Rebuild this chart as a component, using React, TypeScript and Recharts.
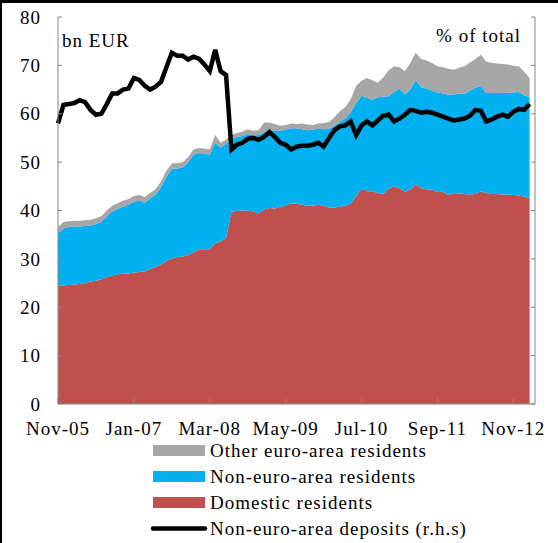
import { Area, ComposedChart, Line, XAxis, YAxis } from 'recharts';

// monthly, Nov-05 .. Feb-13
const MONTH_NAMES = ['Jan', 'Feb', 'Mar', 'Apr', 'May', 'Jun', 'Jul', 'Aug', 'Sep', 'Oct', 'Nov', 'Dec'];

const DOMESTIC = [
  24.5, 24.5, 24.6, 24.7, 24.8, 25.0, 25.3, 25.5, 25.8, 26.2,
  26.6, 26.8, 26.9, 27.0, 27.2, 27.3, 27.4, 27.9, 28.3, 28.9,
  29.5, 30.1, 30.4, 30.5, 30.8, 31.3, 32.0, 32.0, 32.0, 33.3,
  33.6, 34.3, 39.8, 39.9, 40.0, 40.0, 39.8, 39.4, 40.2, 40.5,
  40.4, 40.8, 41.0, 41.5, 41.4, 41.2, 41.0, 41.0, 41.2, 41.0,
  40.6, 40.6, 40.8, 41.0, 41.4, 43.0, 44.5, 44.0, 44.0, 43.6,
  43.4, 44.5, 45.0, 44.6, 43.9, 44.4, 45.5, 44.6, 44.4, 44.3,
  43.8, 43.9, 43.2, 43.6, 43.5, 43.4, 43.3, 43.4, 44.0, 43.6,
  43.4, 43.4, 43.3, 43.3, 43.2, 43.1, 42.9, 42.6,
];

const NON_EURO = [
  10.8, 11.8, 12.0, 12.0, 11.9, 11.8, 11.6, 11.7, 11.8, 12.6,
  13.2, 13.5, 13.9, 14.2, 14.6, 14.7, 14.2, 14.6, 15.0, 15.9,
  17.5, 18.5, 18.3, 18.4, 19.2, 20.3, 19.9, 19.8, 19.5, 20.7,
  19.4, 19.5, 15.0, 15.3, 15.4, 15.8, 15.7, 16.2, 16.0, 16.0,
  16.2, 15.7, 15.8, 15.5, 15.6, 15.6, 15.6, 15.7, 15.7, 15.8,
  16.3, 16.9, 17.5, 18.0, 18.9, 19.2, 19.2, 19.3, 18.9, 19.8,
  20.1, 19.1, 19.5, 20.6, 20.1, 20.6, 21.5, 20.9, 20.8, 20.5,
  20.6, 20.3, 20.8, 20.4, 20.7, 20.7, 21.5, 22.0, 21.7, 20.7,
  20.9, 20.9, 21.0, 21.0, 21.2, 21.4, 20.9, 20.8,
];

const OTHER_EURO = [
  1.3, 1.3, 1.2, 1.2, 1.2, 1.2, 1.2, 1.2, 1.2, 1.2,
  1.2, 1.2, 1.2, 1.2, 1.2, 1.2, 1.2, 1.1, 1.1, 1.2,
  1.2, 1.1, 1.1, 1.1, 1.0, 1.0, 1.0, 1.0, 1.1, 1.6,
  1.0, 0.8, 0.8, 0.8, 0.9, 1.0, 1.0, 1.0, 2.0, 1.7,
  1.3, 1.0, 0.9, 1.0, 0.9, 1.2, 1.2, 1.0, 1.1, 1.3,
  1.4, 1.8, 2.2, 2.4, 2.7, 3.6, 3.1, 4.1, 4.0, 3.0,
  4.0, 5.4, 5.3, 4.4, 4.8, 5.5, 5.6, 5.8, 5.8, 5.7,
  5.4, 5.4, 5.3, 5.1, 5.3, 5.7, 5.8, 5.9, 6.5, 6.5,
  6.2, 6.1, 6.0, 5.9, 5.5, 5.3, 4.9, 4.0,
];

// % of total, right-hand scale
const DEPOSITS = [
  29.0, 30.9, 31.0, 31.1, 31.4, 31.2, 30.4, 29.9, 30.0, 31.0,
  32.1, 32.1, 32.5, 32.6, 33.7, 33.5, 32.9, 32.5, 32.8, 33.3,
  34.8, 36.3, 36.0, 36.0, 35.6, 35.9, 35.7, 35.1, 34.4, 36.6,
  34.4, 34.0, 26.3, 26.8, 27.0, 27.4, 27.5, 27.3, 27.6, 28.1,
  27.6, 27.0, 26.8, 26.3, 26.6, 26.7, 26.7, 26.8, 27.0, 26.6,
  27.5, 28.3, 28.7, 28.8, 29.2, 27.8, 28.8, 29.2, 28.8, 29.3,
  29.8, 29.9, 29.2, 29.5, 29.9, 30.4, 30.3, 30.1, 30.2, 30.1,
  29.9, 29.7, 29.5, 29.3, 29.4, 29.5, 29.8, 30.4, 30.3, 29.2,
  29.4, 29.7, 29.9, 29.7, 30.2, 30.5, 30.4, 31.0,
];

const X_TICKS = [0, 14, 28, 42, 56, 70, 84];
const LEFT_TICKS = [0, 10, 20, 30, 40, 50, 60, 70, 80];
const RIGHT_TICKS = [0, 5, 10, 15, 20, 25, 30, 35, 40];

const monthLabel = (i: number) => {
  const m = 10 + i;
  const yy = (5 + Math.floor(m / 12)) % 100;
  return `${MONTH_NAMES[m % 12]}-${String(yy).padStart(2, '0')}`;
};

const data = DOMESTIC.map((d, i) => ({
  idx: i,
  month: monthLabel(i),
  domestic: d,
  nonEuro: NON_EURO[i],
  otherEuro: OTHER_EURO[i],
  deposits: DEPOSITS[i],
}));

const FONT = "'Liberation Serif', 'Times New Roman', serif";
const AXIS = '#868686';
const RED = '#C0504D';
const BLUE = '#00B0F0';
const GRAY = '#A6A6A6';

const txt = { fontFamily: FONT, fontSize: 19, fill: '#000', letterSpacing: 1 } as const;

function LeftTick({ x, y, payload }: any) {
  return <text x={x} y={y} dy="0.355em" textAnchor="end" {...txt}>{payload.value}</text>;
}
// the right-hand labels sit past the picture's edge, as in the original
function RightTick({ x, y, payload }: any) {
  return <text x={x} y={y} dy="0.355em" textAnchor="start" {...txt}>{payload.value}</text>;
}
function BottomTick({ x, y, payload }: any) {
  return <text x={x} y={y} dy="0.71em" textAnchor="middle" {...txt}>{monthLabel(payload.value)}</text>;
}

const LEGEND = [
  { label: 'Other euro-area residents', color: GRAY, kind: 'box' },
  { label: 'Non-euro-area residents', color: BLUE, kind: 'box' },
  { label: 'Domestic residents', color: RED, kind: 'box' },
  { label: 'Non-euro-area deposits (r.h.s)', color: '#000', kind: 'line' },
];

export default function App() {
  return (
    <div style={{ position: 'absolute', left: 0, top: 0, width: 558, height: 543, overflow: 'hidden', background: '#fff' }}>
      <ComposedChart width={558} height={543} data={data} margin={{ top: 17, right: 0, bottom: 99, left: 0 }}>
        <XAxis
          dataKey="idx" type="number" domain={[0, 88]} ticks={X_TICKS} interval={0}
          height={40} stroke={AXIS} tickSize={-6} tickMargin={24} tick={<BottomTick />}
        />
        <YAxis
          yAxisId="l" width={58} domain={[0, 80]} ticks={LEFT_TICKS} interval={0}
          stroke={AXIS} tickSize={-4} tickMargin={21} tick={<LeftTick />}
        />
        <YAxis
          yAxisId="r" orientation="right" width={23} domain={[0, 40]} ticks={RIGHT_TICKS} interval={0}
          stroke={AXIS} tickSize={-4} tickMargin={27} tick={<RightTick />}
        />
        <Area yAxisId="l" stackId="s" type="linear" dataKey="domestic" fill={RED} fillOpacity={1} stroke="none" isAnimationActive={false} />
        <Area yAxisId="l" stackId="s" type="linear" dataKey="nonEuro" fill={BLUE} fillOpacity={1} stroke="none" isAnimationActive={false} />
        <Area yAxisId="l" stackId="s" type="linear" dataKey="otherEuro" fill={GRAY} fillOpacity={1} stroke="none" isAnimationActive={false} />
        <Line yAxisId="r" type="linear" dataKey="deposits" stroke="#000" strokeWidth={4.5} dot={false} isAnimationActive={false} />
      </ComposedChart>
      <svg width={558} height={543} style={{ position: 'absolute', left: 0, top: 0, pointerEvents: 'none' }}>
        <text x={62} y={46.5} {...txt}>bn EUR</text>
        <text x={521} y={41.5} textAnchor="end" {...txt}>% of total</text>
        {LEGEND.map((e, i) => {
          const cy = 450.5 + i * 26;
          return (
            <g key={e.label}>
              {e.kind === 'box'
                ? <rect x={153} y={cy - 5.5} width={52} height={11} fill={e.color} />
                : <line x1={153} x2={205} y1={cy} y2={cy} stroke={e.color} strokeWidth={4.5} strokeLinecap="round" />}
              <text x={210} y={cy} dy="0.33em" {...txt}>{e.label}</text>
            </g>
          );
        })}
      </svg>
      <div style={{ position: 'absolute', left: 0, top: 0, width: 558, height: 543, boxSizing: 'border-box', borderTop: '3px solid #000', borderLeft: '2px solid #000', pointerEvents: 'none' }} />
    </div>
  );
}
